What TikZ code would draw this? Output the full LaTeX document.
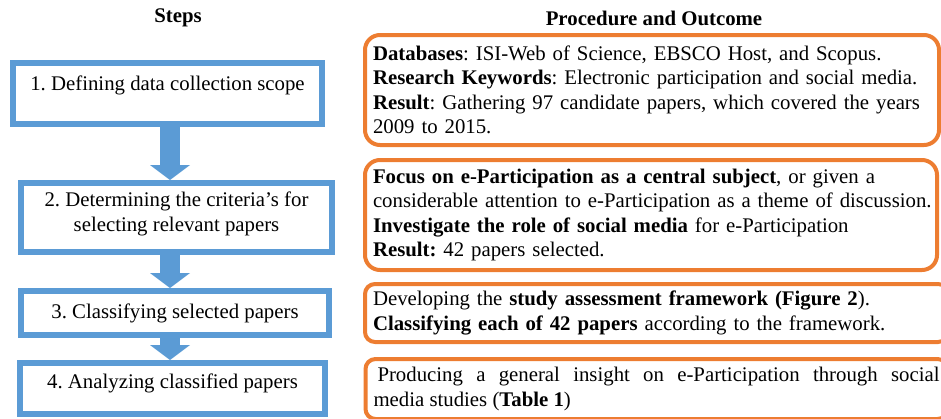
\documentclass[tikz,border=0pt]{standalone}
\usepackage{fontspec}
\setmainfont{Liberation Serif}
\usetikzlibrary{arrows.meta}
\definecolor{stepblue}{HTML}{5B9BD5}
\definecolor{outorange}{HTML}{ED7D31}
\frenchspacing
\begin{document}
\begin{tikzpicture}[x = 1pt, y = -1pt,
    every node/.style = {font = \fontsize{20.8}{24.5}\selectfont},
    head/.style = {font = \fontsize{20.8}{24.5}\selectfont\bfseries},
    stepbox/.style = {draw = stepblue, line width = 6pt, align = center, inner sep = 0pt},
    outbox/.style = {draw = outorange, line width = 4pt, rounded corners = 15pt,
                     inner xsep = 8pt, inner ysep = 0pt, align = left},
    flow/.style = {draw = stepblue, line width = 20pt,
                   -{Triangle[width = 40pt, length = 15pt, line width = 0pt]}}]
  \useasboundingbox (0,0) rectangle (941,418);
  \clip (0,0) rectangle (941,418);
  \node[head] (hsteps) at (178,18) {Steps};
  \node[head] (hproc) at (654,18) {Procedure and Outcome};

  \node[stepbox, minimum width = 309pt, minimum height = 61pt, text depth = 20pt]
    (s1) at (167.5,93.5) {1. Defining data collection scope};
  \node[stepbox, minimum width = 311pt, minimum height = 69pt, text depth = 12pt]
    (s2) at (176.5,217.5) {2. Determining the criteria's for\\selecting relevant papers};
  \node[stepbox, minimum width = 308pt, minimum height = 44pt]
    (s3) at (175,313) {3. Classifying selected papers};
  \node[stepbox, minimum width = 305pt, minimum height = 51pt, text depth = 14pt]
    (s4) at (172.5,388.5) {4. Analyzing classified papers};

  \coordinate (ax) at (170,0);
  \draw[flow] (s1.south -| ax) -- (s2.north -| ax);
  \draw[flow] (s2.south -| ax) -- (s3.north -| ax);
  \draw[flow] (s3.south -| ax) -- (s4.north -| ax);

  \node[outbox, text width = 558pt, minimum height = 110pt] (o1) at (652,90)
    {\textbf{Databases}: ISI-Web of Science, EBSCO Host, and Scopus.\\
     \textbf{Research Keywords}: Electronic participation and social media.\\
     \textbf{Result}: Gathering 97 candidate papers, which covered the years\\
     2009 to 2015.};
  \node[outbox, text width = 556pt, minimum height = 110pt] (o2) at (651,215)
    {\textbf{Focus on e-Participation as a central subject}, or given a\\
     \makebox[0pt][l]{considerable attention to e-Participation as a theme of discussion.}\\
     \textbf{Investigate the role of social media} for e-Participation\\
     \textbf{Result:} 42 papers selected.};
  \node[outbox, rounded corners = 10pt, text width = 567pt, minimum height = 58pt]
    (o3) at (656.5,313)
    {Developing the \textbf{study assessment framework (Figure 2}).\\
     \textbf{Classifying each of 42 papers} according to the framework.};
  \node[outbox, rounded corners = 10pt, align = justify, text width = 566pt,
        minimum height = 60pt] (o4) at (656.5,389)
    {\hspace*{4pt}Producing a general insight on e-Participation through social\linebreak
     media studies (\textbf{Table 1})};
\end{tikzpicture}
\end{document}
